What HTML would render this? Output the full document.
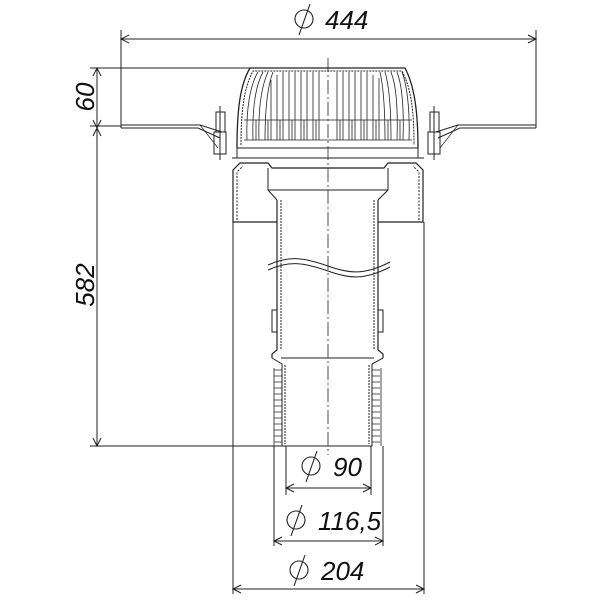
<!DOCTYPE html>
<html><head><style>html,body{margin:0;padding:0;background:#fff}svg{display:block}</style></head>
<body>
<svg width="600" height="600" viewBox="0 0 600 600" xmlns="http://www.w3.org/2000/svg" font-family="'Liberation Sans', sans-serif">
<g stroke="#222" fill="none" stroke-width="1">
<!-- top dimension -->
<line x1="121" y1="30" x2="121" y2="128"/>
<line x1="536" y1="30" x2="536" y2="128"/>
<line x1="121" y1="39" x2="536" y2="39"/>
<path d="M129,35 L121,39 L129,43 M528,35 L536,39 L528,43"/>
<!-- left dimensions -->
<line x1="90" y1="68" x2="250" y2="68"/>
<line x1="90" y1="446" x2="285" y2="446"/>
<line x1="97" y1="68" x2="97" y2="446"/>
<line x1="90" y1="126" x2="121" y2="126"/>
<path d="M93,76 L97,68 L101,76 M93,120 L97,128 L101,120 M93,136 L97,128 L101,136 M93,438 L97,446 L101,438"/>
<!-- centerline -->
<line x1="328" y1="58" x2="328" y2="455" stroke-dasharray="14,3,2,3" stroke-width="0.8"/>
<!-- flange -->
<path d="M121,125 H200 L222,132 M121,128 H198 L220,138"/>
<path d="M436,132 L458,125 H536 M438,138 L460,128 H536"/>
<path d="M200,125 L218,148 M458,125 L440,148" stroke-width="0.7"/>
<!-- bolts -->
<rect x="216" y="112" width="9" height="20"/><rect x="214" y="132" width="12" height="22"/><line x1="220" y1="106" x2="220" y2="160"/>
<rect x="430" y="112" width="9" height="20"/><rect x="428" y="132" width="12" height="22"/><line x1="434" y1="106" x2="434" y2="160"/>
<!-- dome -->
<path d="M237,148 C237,110 240,85 250,68 H405 C414,85 418,110 418,148" stroke-width="1.3"/>
<path d="M241,145 C241,110 244,88 253,71 H402 C411,88 414,110 414,145" stroke-dasharray="2,1"/>
<rect x="237" y="148" width="181" height="10"/>
<line x1="232" y1="158" x2="424" y2="158"/>
<g stroke-width="0.8">
<path d="M247,140 C246,110 250,85 258,72 M253,140 C252,105 256,85 263,72 M259,140 C258,105 262,85 268,72 M265,140 C265,105 268,85 273,72 M271,140 V80 M277,140 V75 M283,140 V72 M289,140 V72 M295,140 V72 M301,140 V72 M307,140 V72 M313,140 V72 M319,140 V72 M337,140 V72 M343,140 V72 M349,140 V72 M355,140 V72 M361,140 V72 M367,140 V72 M373,140 V75 M379,140 V78 M385,140 C385,105 383,85 380,72 M391,140 C391,105 389,85 385,72 M397,140 C398,105 396,85 391,72 M403,140 C404,110 402,85 397,72 M409,140 C410,110 407,85 402,72"/>
<path d="M244,120 H412 M244,140 H412"/>
<path d="M256,120 V140 M268,120 V140 M280,120 V140 M292,120 V140 M304,120 V140 M316,120 V140 M340,120 V140 M352,120 V140 M364,120 V140 M376,120 V140 M388,120 V140 M400,120 V140"/>
</g>
<!-- body -->
<path d="M233,222 V170 L240,163 H268 L272,168 H384 L388,163 H416 L423,170 V222 H378 M233,222 H277" stroke-width="1.2"/>
<path d="M237,220 V172 L243,166 M419,220 V172 L413,166" stroke-dasharray="2,1.5"/>
<path d="M268,168 V190 L277,200 M388,168 V190 L378,200 M268,190 H388"/>
<!-- tube -->
<path d="M277,200 V350 L272,354 V358 M378,200 V350 L383,354 V358" stroke-width="1.2"/>
<path d="M281,200 V350 M374,200 V350" stroke-dasharray="2,1"/>
<path d="M272,358 L282,364 V446 H372 V364 L383,358 M281,358 H374"/>
<path d="M285,365 V444 M369,365 V444" stroke-dasharray="2,1"/>
<path d="M272,310 H277 V332 H272 Z M378,310 H383 V332 H378 Z"/>
<g stroke-width="0.8">
<path d="M274,370 H282 M274,376 H282 M274,382 H282 M274,388 H282 M274,394 H282 M274,400 H282 M274,406 H282 M274,412 H282 M274,418 H282 M274,424 H282 M274,430 H282 M274,436 H282 M274,442 H282"/>
<path d="M372,370 H380 M372,376 H380 M372,382 H380 M372,388 H380 M372,394 H380 M372,400 H380 M372,406 H380 M372,412 H380 M372,418 H380 M372,424 H380 M372,430 H380 M372,436 H380 M372,442 H380"/>
<path d="M274,368 V446 M381,368 V446"/>
</g>
<!-- wave break -->
<path d="M268,265 C290,255 305,258 328,266 C350,274 365,275 390,262"/>
<path d="M268,270 C290,260 305,263 328,271 C350,279 365,280 390,267"/>
<!-- bottom dims -->
<line x1="286" y1="446" x2="286" y2="495"/><line x1="371" y1="446" x2="371" y2="495"/>
<line x1="286" y1="488" x2="371" y2="488"/>
<path d="M294,484 L286,488 L294,492 M363,484 L371,488 L363,492"/>
<line x1="274" y1="446" x2="274" y2="546"/><line x1="383" y1="446" x2="383" y2="546"/>
<line x1="274" y1="541" x2="383" y2="541"/>
<path d="M282,537 L274,541 L282,545 M375,537 L383,541 L375,545"/>
<line x1="233" y1="222" x2="233" y2="594"/><line x1="424" y1="222" x2="424" y2="594"/>
<line x1="233" y1="589" x2="424" y2="589"/>
<path d="M241,585 L233,589 L241,593 M416,585 L424,589 L416,593"/>
<!-- diameter symbols -->
<g stroke-width="1.1">
<circle cx="304" cy="19" r="9"/><line x1="299" y1="35" x2="310" y2="4"/>
<circle cx="311" cy="466" r="9"/><line x1="306" y1="482" x2="317" y2="451"/>
<circle cx="296" cy="520" r="9"/><line x1="291" y1="536" x2="302" y2="505"/>
<circle cx="299" cy="570" r="9"/><line x1="294" y1="586" x2="305" y2="555"/>
</g>
</g>
<g fill="#111" font-size="26" font-style="italic">
<text x="325" y="29">444</text>
<text x="333" y="476">90</text>
<text x="318" y="530">116,5</text>
<text x="321" y="580">204</text>
<text transform="translate(94,97) rotate(-90)" text-anchor="middle">60</text>
<text transform="translate(94,285) rotate(-90)" text-anchor="middle">582</text>
</g>
</svg>
</body></html>
